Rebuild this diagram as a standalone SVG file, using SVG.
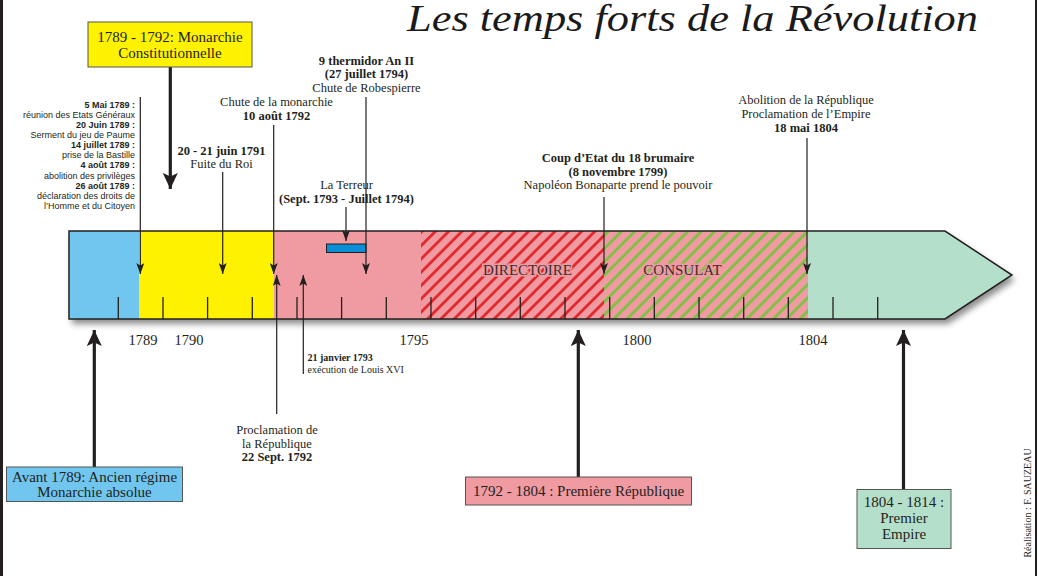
<svg xmlns="http://www.w3.org/2000/svg" width="1038" height="576" viewBox="0 0 1038 576">
<style>
.serif{font-family:"Liberation Serif","Times New Roman",serif;fill:#231f20}
.sans{font-family:"Liberation Sans",Arial,sans-serif;fill:#231f20}
.b{font-weight:bold}
.mid{text-anchor:middle}
.end{text-anchor:end}
.lbl{font-size:12.5px}
.box{stroke:#555;stroke-width:1}
.boxt{font-size:15px}
.yr{font-size:14.5px}
.thin{stroke:#231f20;stroke-width:1.2;fill:none}
.thick{stroke:#231f20;stroke-width:3.2;fill:none}
.bartxt{font-size:15px;fill:#3a2e2e;stroke:#f09aa1;stroke-width:3;paint-order:stroke}
</style>
<defs>
<marker id="ah" markerUnits="userSpaceOnUse" markerWidth="11" markerHeight="8" viewBox="0 0 11 8" refX="11" refY="4" orient="auto">
<path d="M0,0 L11,4 L0,8 L2.5,4 z" fill="#231f20"/>
</marker>
<marker id="AH" markerUnits="userSpaceOnUse" markerWidth="16" markerHeight="15" viewBox="0 0 16 15" refX="16" refY="7.5" orient="auto">
<path d="M0,0 L16,7.5 L0,15 L3.5,7.5 z" fill="#231f20"/>
</marker>
<pattern id="hatchRed" patternUnits="userSpaceOnUse" width="9.4" height="10" patternTransform="rotate(45)">
<line x1="1.5" y1="0" x2="1.5" y2="10" stroke="#e1262c" stroke-width="2.8"/>
</pattern>
<pattern id="hatchGreen" patternUnits="userSpaceOnUse" width="9.4" height="10" patternTransform="rotate(45)">
<line x1="1.5" y1="0" x2="1.5" y2="10" stroke="#7cc242" stroke-width="2.8"/>
</pattern>
<clipPath id="barClip">
<path d="M69,231 H945 L1012,275 L945,319 H69 Z"/>
</clipPath>
<filter id="shadow" x="-5%" y="-20%" width="110%" height="150%">
<feDropShadow dx="3" dy="5" stdDeviation="3" flood-color="#000" flood-opacity="0.45"/>
</filter>
</defs>

<rect width="1038" height="576" fill="#ffffff"/>
<line x1="1.5" y1="0" x2="1.5" y2="576" stroke="#231f20" stroke-width="3"/>
<line x1="1036" y1="0" x2="1036" y2="576" stroke="#231f20" stroke-width="2"/>

<g id="title">
<text x="407" y="31" font-family="'Liberation Serif','Times New Roman',serif" font-style="italic" font-size="37" fill="#1a1a1a" textLength="571" lengthAdjust="spacingAndGlyphs">Les temps forts de la Révolution</text>
</g>

<g id="timeline">
<path d="M69,231 H945 L1012,275 L945,319 H69 Z" fill="#f09aa1" filter="url(#shadow)"/>
<g clip-path="url(#barClip)">
<rect x="69" y="231" width="70" height="88" fill="#71c6ef"/>
<rect x="139" y="231" width="135" height="88" fill="#fff200"/>
<rect x="274" y="231" width="534" height="88" fill="#f09aa1"/>
<rect x="421" y="231" width="183" height="88" fill="url(#hatchRed)"/>
<rect x="604" y="231" width="204" height="88" fill="url(#hatchGreen)"/>
<rect x="808" y="231" width="210" height="88" fill="#b3dfcb"/>
</g>
<path d="M69,231 H945 L1012,275 L945,319 H69 Z" fill="none" stroke="#231f20" stroke-width="1.5"/>
<g id="ticks" stroke="#231f20" stroke-width="1.3">
<line x1="118.3" y1="297" x2="118.3" y2="319"/>
<line x1="163" y1="297" x2="163" y2="319"/>
<line x1="207.6" y1="297" x2="207.6" y2="319"/>
<line x1="252.3" y1="297" x2="252.3" y2="319"/>
<line x1="297" y1="297" x2="297" y2="319"/>
<line x1="341.6" y1="297" x2="341.6" y2="319"/>
<line x1="386.3" y1="297" x2="386.3" y2="319"/>
<line x1="431" y1="297" x2="431" y2="319"/>
<line x1="475.7" y1="297" x2="475.7" y2="319"/>
<line x1="520.3" y1="297" x2="520.3" y2="319"/>
<line x1="565" y1="297" x2="565" y2="319"/>
<line x1="609.7" y1="297" x2="609.7" y2="319"/>
<line x1="654.3" y1="297" x2="654.3" y2="319"/>
<line x1="699" y1="297" x2="699" y2="319"/>
<line x1="743.7" y1="297" x2="743.7" y2="319"/>
<line x1="788.3" y1="297" x2="788.3" y2="319"/>
<line x1="833" y1="297" x2="833" y2="319"/>
<line x1="877.7" y1="297" x2="877.7" y2="319"/>
</g>
<rect x="326.5" y="244" width="39.5" height="8.5" fill="#0a8fd6" stroke="#231f20" stroke-width="1"/>
<text class="serif bartxt mid" x="527.5" y="274.5">DIRECTOIRE</text>
<text class="serif bartxt mid" x="682.5" y="274.5">CONSULAT</text>
<g id="years">
<text class="serif yr mid" x="143" y="345">1789</text>
<text class="serif yr mid" x="189" y="345">1790</text>
<text class="serif yr mid" x="414" y="345">1795</text>
<text class="serif yr mid" x="637" y="345">1800</text>
<text class="serif yr mid" x="813" y="345">1804</text>
</g>
</g>

<g id="connectors">
<line class="thick" x1="170.3" y1="67" x2="170.3" y2="189" marker-end="url(#AH)"/>
<line class="thin" x1="140.3" y1="97" x2="140.3" y2="274" marker-end="url(#ah)"/>
<line class="thin" x1="222.7" y1="172" x2="222.7" y2="274" marker-end="url(#ah)"/>
<line class="thin" x1="273.7" y1="125" x2="273.7" y2="274" marker-end="url(#ah)"/>
<line class="thin" x1="346" y1="207" x2="346" y2="241" marker-end="url(#ah)"/>
<line class="thin" x1="366" y1="97" x2="366" y2="274" marker-end="url(#ah)"/>
<line class="thin" x1="604" y1="197" x2="604" y2="274" marker-end="url(#ah)"/>
<line class="thin" x1="807" y1="138" x2="807" y2="274" marker-end="url(#ah)"/>
<line class="thin" x1="276.7" y1="414" x2="276.7" y2="275" marker-end="url(#ah)"/>
<line class="thin" x1="303.3" y1="374" x2="303.3" y2="275" marker-end="url(#ah)"/>
<line class="thick" x1="94.3" y1="467" x2="94.3" y2="330" marker-end="url(#AH)"/>
<line class="thick" x1="578.3" y1="477" x2="578.3" y2="330" marker-end="url(#AH)"/>
<line class="thick" x1="903.5" y1="489.5" x2="903.5" y2="330" marker-end="url(#AH)"/>
</g>

<g id="box-monarchie-constitutionnelle">
<rect class="box" x="88" y="22" width="164" height="45" fill="#fff200"/>
<text class="serif boxt mid" x="170" y="41.5">1789 - 1792: Monarchie</text>
<text class="serif boxt mid" x="170" y="57.5">Constitutionnelle</text>
</g>

<g id="box-ancien-regime">
<rect class="box" x="6.5" y="467" width="176" height="34.5" fill="#71c6ef"/>
<text class="serif boxt mid" x="94.5" y="481.5">Avant 1789: Ancien régime</text>
<text class="serif boxt mid" x="94.5" y="497">Monarchie absolue</text>
</g>

<g id="box-premiere-republique">
<rect class="box" x="465.5" y="477" width="226" height="28" fill="#f09aa1"/>
<text class="serif boxt mid" x="578.5" y="495.5">1792 - 1804 : Première République</text>
</g>

<g id="box-premier-empire">
<rect class="box" x="857" y="489.5" width="94" height="59" fill="#b3dfcb"/>
<text class="serif boxt mid" x="904" y="506.5">1804 - 1814 :</text>
<text class="serif boxt mid" x="904" y="522.5">Premier</text>
<text class="serif boxt mid" x="904" y="539">Empire</text>
</g>

<g id="events-1789" font-size="9">
<text class="sans b end" x="135" y="107.5">5 Mai 1789 :</text>
<text class="sans end" x="135" y="117.7">réunion des Etats Généraux</text>
<text class="sans b end" x="135" y="127.8">20 Juin 1789 :</text>
<text class="sans end" x="135" y="138">Serment du jeu de Paume</text>
<text class="sans b end" x="135" y="148.1">14 juillet 1789 :</text>
<text class="sans end" x="135" y="158.3">prise de la Bastille</text>
<text class="sans b end" x="135" y="168.4">4 août 1789 :</text>
<text class="sans end" x="135" y="178.6">abolition des privilèges</text>
<text class="sans b end" x="135" y="188.7">26 août 1789 :</text>
<text class="sans end" x="135" y="198.9">déclaration des droits de</text>
<text class="sans end" x="135" y="209">l’Homme et du Citoyen</text>
</g>

<g id="event-fuite">
<text class="serif lbl b mid" x="221.5" y="155">20 - 21 juin 1791</text>
<text class="serif lbl mid" x="221.5" y="168">Fuite du Roi</text>
</g>

<g id="event-chute-monarchie">
<text class="serif lbl mid" x="276.5" y="106">Chute de la monarchie</text>
<text class="serif lbl b mid" x="276.5" y="120">10 août 1792</text>
</g>

<g id="event-thermidor">
<text class="serif lbl b mid" x="366.5" y="64.5">9 thermidor An II</text>
<text class="serif lbl b mid" x="366.5" y="78">(27 juillet 1794)</text>
<text class="serif lbl mid" x="366.5" y="92">Chute de Robespierre</text>
</g>

<g id="event-terreur">
<text class="serif lbl mid" x="346.5" y="189">La Terreur</text>
<text class="serif lbl b mid" x="346.5" y="202.5">(Sept. 1793 - Juillet 1794)</text>
</g>

<g id="event-brumaire">
<text class="serif lbl b mid" x="618" y="162">Coup d’Etat du 18 brumaire</text>
<text class="serif lbl b mid" x="618" y="175.5">(8 novembre 1799)</text>
<text class="serif lbl mid" x="618" y="189">Napoléon Bonaparte prend le pouvoir</text>
</g>

<g id="event-empire">
<text class="serif lbl mid" x="806" y="103.5">Abolition de la République</text>
<text class="serif lbl mid" x="806" y="117.5">Proclamation de l’Empire</text>
<text class="serif lbl b mid" x="806" y="131.5">18 mai 1804</text>
</g>

<g id="event-louis-xvi">
<text class="serif b" font-size="10" x="307.5" y="360.5">21 janvier 1793</text>
<text class="serif" font-size="10" x="307.5" y="373">exécution de Louis XVI</text>
</g>

<g id="event-republique">
<text class="serif lbl mid" x="277" y="433.5">Proclamation de</text>
<text class="serif lbl mid" x="277" y="447.5">la République</text>
<text class="serif lbl b mid" x="277" y="461">22 Sept. 1792</text>
</g>

<g id="credit">
<text class="serif" font-size="10" text-anchor="middle" transform="translate(1031,503) rotate(-90)">Réalisation : F. SAUZEAU</text>
</g>
</svg>
